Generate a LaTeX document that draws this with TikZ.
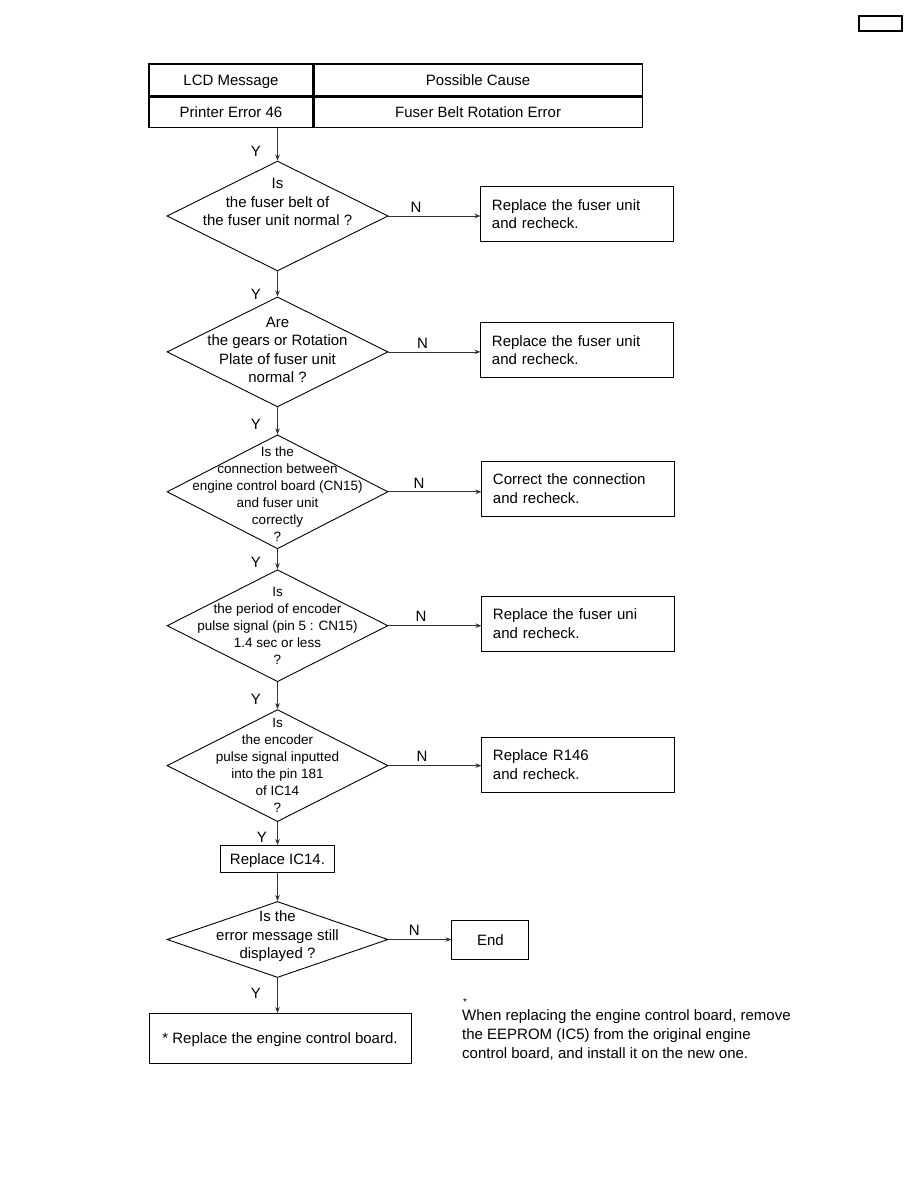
\documentclass[tikz,border=0pt]{standalone}
\usepackage{fontspec}
\setmainfont{Liberation Sans}
\usetikzlibrary{shapes.geometric, arrows.meta, positioning, calc}

\begin{document}
\begin{tikzpicture}[x=1pt, y=-1pt, node distance=28pt,
        every node/.style={font=\fontsize{15}{18.5}\selectfont},
        cell/.style={rectangle, draw, line width=1.1pt, inner sep=0pt},
        tcell/.style={cell, text height=11pt, text depth=0pt},
        decision/.style={diamond, draw, line width=0.9pt, minimum width=221pt, minimum height=110pt, inner sep=0pt},
        qtext/.style={align=center, inner sep=0pt},
        small/.style={font=\fontsize{13.5}{17}\selectfont},
        action/.style={rectangle, draw, line width=1pt, minimum width=193pt, minimum height=55pt, text width=171pt, inner xsep=11pt, align=left},
        arr/.style={-{Stealth[length=6pt, width=4.5pt]}, line width=0.8pt, draw=black!80},
        yes/.style={left, xshift=-13pt},
        no/.style={above}]
        \useasboundingbox (0,0) rectangle (918,1188);

        \node[cell, line width=1.3pt, minimum width=43pt, minimum height=15pt] (tag) at (880.5,23.5) {};

        % table
        \node[tcell, minimum width=164pt, minimum height=32pt] (lcd) at (231,80) {LCD Message};
        \node[tcell, minimum width=328pt, minimum height=32pt, right=0pt of lcd] (cause) {Possible Cause};
        \node[tcell, minimum width=164pt, minimum height=30pt, below=0pt of lcd] (msg) {Printer Error 46};
        \node[tcell, minimum width=328pt, minimum height=30pt, right=0pt of msg] (err) {Fuser Belt Rotation Error};

        % checks
        \node[decision] (d1) at (277.5,216) {};
        \node[qtext, yshift=14pt] (d1txt) at (d1) {Is\\the fuser belt of\\the fuser unit normal ?};
        \node[decision, below=25pt of d1] (d2) {};
        \node[qtext, yshift=2pt] (d2txt) at (d2) {Are\\the gears or Rotation\\Plate of fuser unit\\normal ?};
        \node[decision, below=27pt of d2, minimum height=114pt] (d3) {};
        \node[qtext, small, yshift=-2.5pt] (d3txt) at (d3) {Is the\\connection between\\engine control board (CN15)\\and fuser unit\\correctly\\?};
        \node[decision, below=20pt of d3, minimum height=112pt] (d4) {};
        \node[qtext, small] (d4txt) at (d4) {Is\\the period of encoder\\pulse signal (pin 5 : CN15)\\1.4 sec or less\\?};
        \node[decision, below=27pt of d4, minimum height=112pt] (d5) {};
        \node[qtext, small] (d5txt) at (d5) {Is\\the encoder\\pulse signal inputted\\into the pin 181\\of IC14\\?};
        \node[tcell, line width=1pt, minimum width=114pt, minimum height=27pt, below=23pt of d5] (ic) {Replace IC14.};
        \node[decision, below=28pt of ic, minimum height=76pt] (d6) {};
        \node[qtext, yshift=3pt] (d6txt) at (d6) {Is the\\error message still\\displayed ?};
        \node[tcell, line width=1pt, minimum width=262pt, minimum height=50pt, below=35pt of d6, xshift=2.5pt] (board) {* Replace the engine control board.};

        % actions
        \node[action, right=92pt of d1, yshift=2pt] (b1) {Replace the fuser unit\\and recheck.};
        \node[action, right=92pt of d2, yshift=2pt] (b2) {Replace the fuser unit\\and recheck.};
        \node[action, right=93pt of d3, yshift=3pt] (b3) {Correct the connection\\and recheck.};
        \node[action, right=93pt of d4, yshift=2pt] (b4) {Replace the fuser uni\\and recheck.};
        \node[action, right=93pt of d5, yshift=1pt] (b5) {Replace R146\\and recheck.};
        \node[tcell, line width=1pt, minimum width=77pt, minimum height=39pt, right=63pt of d6] (fin) {End};

        % note
        \node[inner sep=0pt, font=\fontsize{10}{12}\selectfont] (star) at (465,1002) {*};
        \node[anchor=north west, inner sep=0pt, align=left, font=\fontsize{15}{19}\selectfont] (note) at (462,1009) {When replacing the engine control board, remove\\the EEPROM (IC5) from the original engine\\control board, and install it on the new one.};

        % Y branches
        \draw[arr] (msg.south -| d1.north) -- node[yes, pos=.71] {Y} (d1.north);
        \draw[arr] (d1) -- node[yes, pos=.9] {Y} (d2);
        \draw[arr] (d2) -- node[yes, pos=.64] {Y} (d3);
        \draw[arr] (d3) -- node[yes, pos=.67] {Y} (d4);
        \draw[arr] (d4) -- node[yes, pos=.64] {Y} (d5);
        \draw[arr] (d5) -- node[yes, pos=.67, xshift=6pt] {Y} (ic);
        \draw[arr] (ic) -- (d6);
        \draw[arr] (d6.south) -- node[yes, pos=.44] {Y} (d6.south |- board.north);

        % N branches
        \draw[arr] (d1.east) -- node[no, pos=.3] {N} (d1.east -| b1.west);
        \draw[arr] (d2.east) -- node[no, pos=.37] {N} (d2.east -| b2.west);
        \draw[arr] (d3.east) -- node[no, pos=.33] {N} (d3.east -| b3.west);
        \draw[arr] (d4.east) -- node[no, pos=.35] {N} (d4.east -| b4.west);
        \draw[arr] (d5.east) -- node[no, pos=.36] {N} (d5.east -| b5.west);
        \draw[arr] (d6) -- node[no, pos=.41] {N} (fin);
    \end{tikzpicture}
\end{document}
